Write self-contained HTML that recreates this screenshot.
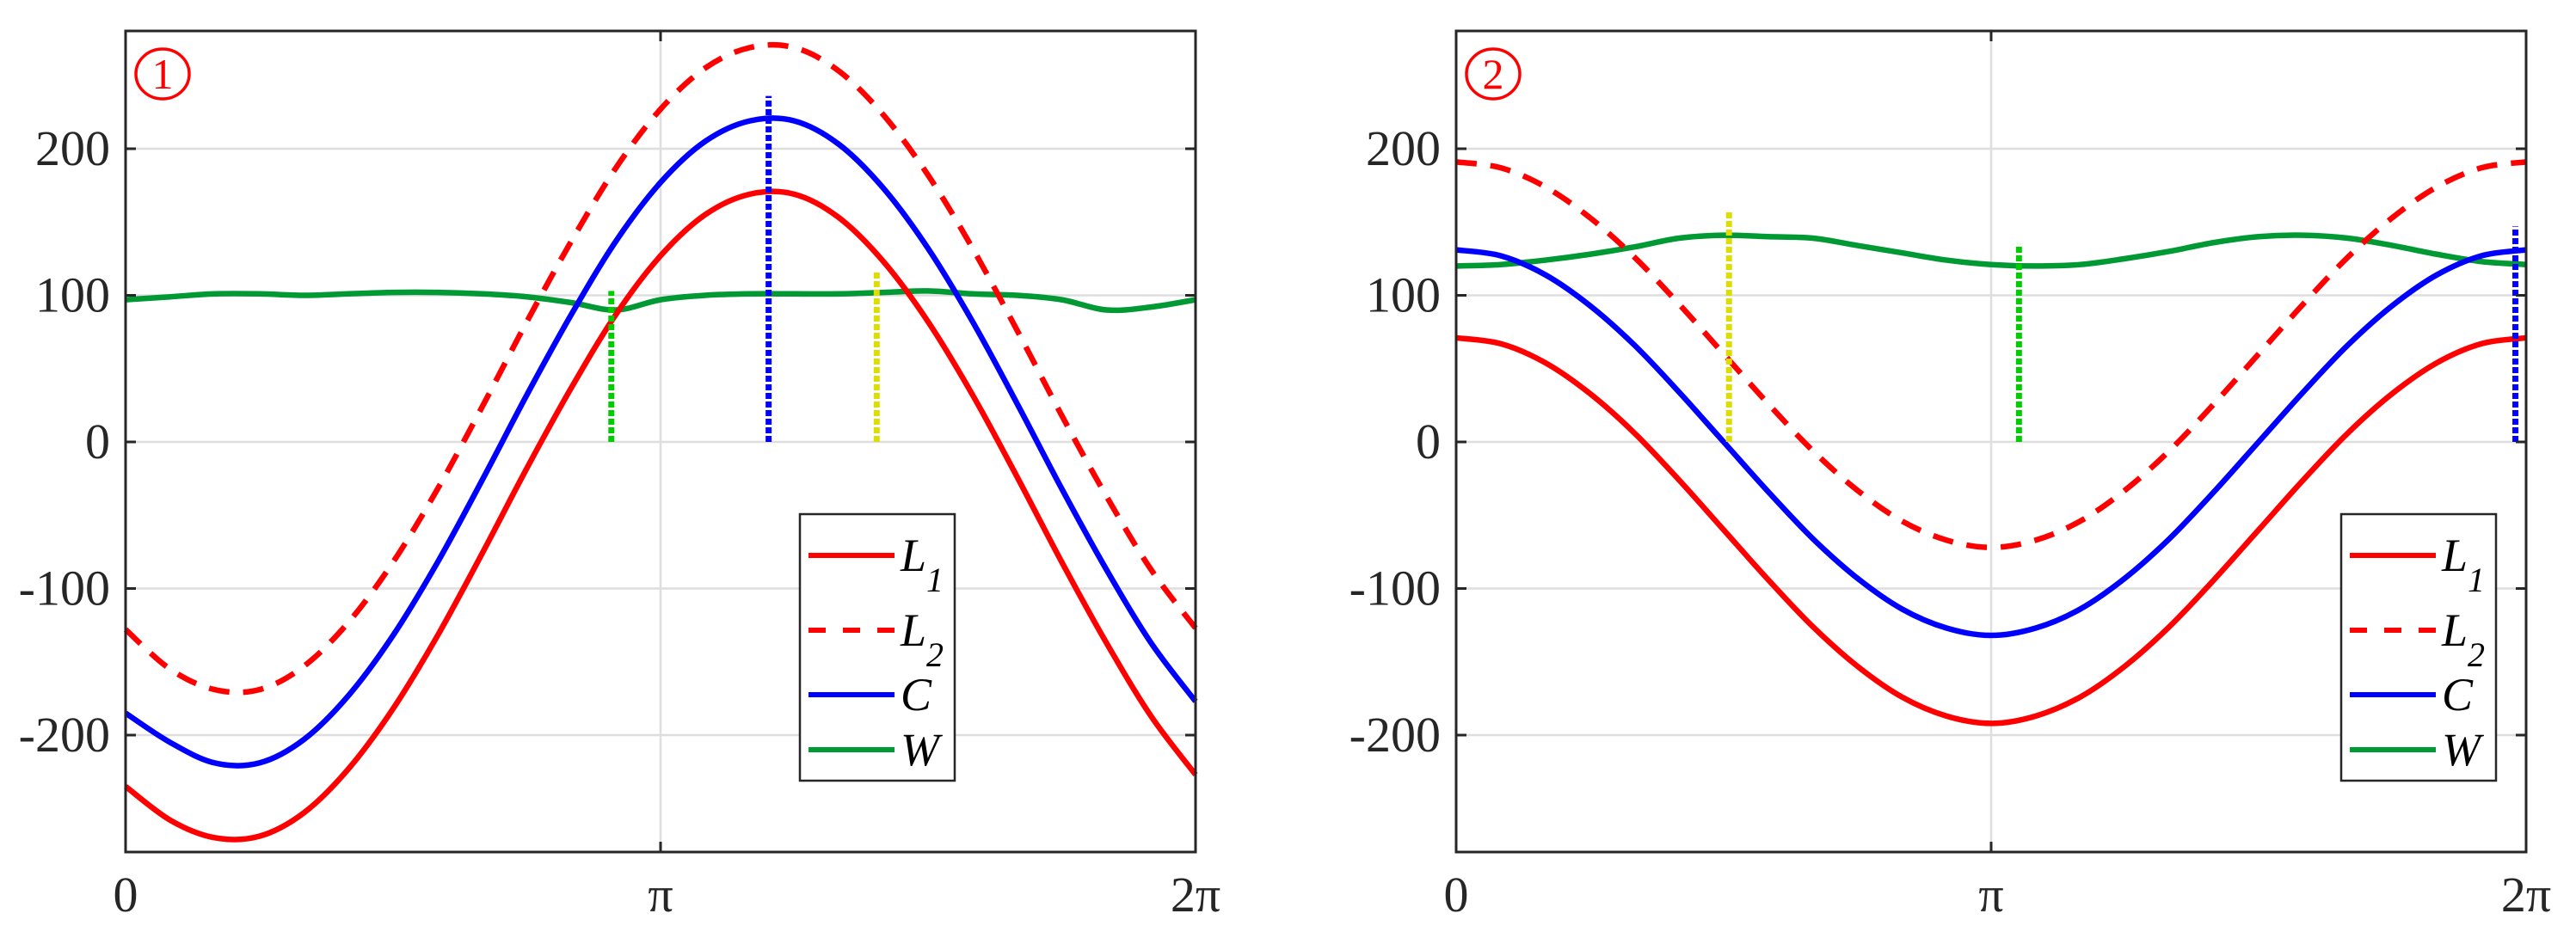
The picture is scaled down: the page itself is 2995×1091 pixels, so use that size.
<!DOCTYPE html>
<html><head><meta charset="utf-8"><style>
html,body{margin:0;padding:0;background:#fff;}
svg{display:block;}
text{font-family:"Liberation Serif",serif;}
</style></head>
<body>
<svg id="chart" width="2995" height="1091" xmlns="http://www.w3.org/2000/svg"></svg>
<script>
// ---- data (angle steps of 15 degrees, 0..360) ----
const anglesDeg = [0,15,30,45,60,75,90,105,120,135,150,165,180,195,210,225,240,255,270,285,300,315,330,345,360];
const yTicks = [-200,-100,0,100,200];
const xTickLabels = ["0","π","2π"];
const xTickFracs = [0,0.5,1];
// panel 1
const p1_L1 = [-235,-258,-270,-269,-253,-223,-182,-132,-76,-18,37,87,127,155,169,169,153,123,82,32,-24,-82,-137,-187,-227];
const p1_L2 = [-128,-155,-169,-169,-153,-123,-82,-32,24,82,137,187,227,255,269,269,253,223,182,132,76,18,-37,-87,-127];
const p1_C  = [-185,-205,-219,-219,-203,-173,-132,-82,-26,32,87,137,177,205,219,219,203,173,132,82,26,-32,-87,-137,-177];
const p1_W  = [97,99,101,101,100,101,102,102,101,99,95,90,97,100,101,101,101,102,103,101,100,97,90,92,97];
const p1_markFrac = [0.454,0.601,0.702];
const p1_markTop = [103,236,117];
const p1_markColor = ["#00cc00","#0000ff","#dddd00"];
// panel 2
const p2_L1 = [71,67,54,33,6,-26,-60,-94,-126,-153,-174,-187,-192,-187,-174,-153,-126,-94,-60,-26,6,33,54,67,71];
const p2_L2 = [191,187,174,153,126,94,60,26,-6,-33,-54,-67,-72,-67,-54,-33,-6,26,60,94,126,153,174,187,191];
const p2_C  = [131,127,114,93,66,34,0,-34,-66,-93,-114,-127,-132,-127,-114,-93,-66,-34,0,34,66,93,114,127,131];
const p2_W  = [120,121,124,128,133,139,141,140,139,134,129,124,121,120,121,125,130,136,140,141,139,134,128,123,121];
const p2_markFrac = [0.255,0.526,0.99];
const p2_markTop = [157,135,147];
const p2_markColor = ["#dddd00","#00cc00","#0000ff"];

const NS="http://www.w3.org/2000/svg";
const svg=document.getElementById('chart');
function mk(tag,attrs,parent){const e=document.createElementNS(NS,tag);for(const k in attrs)e.setAttribute(k,attrs[k]);(parent||svg).appendChild(e);return e;}

function catmull(pts){
  let d=`M${pts[0][0]},${pts[0][1]}`;
  for(let i=0;i<pts.length-1;i++){
    const p0=pts[Math.max(0,i-1)],p1=pts[i],p2=pts[i+1],p3=pts[Math.min(pts.length-1,i+2)];
    const c1=[p1[0]+(p2[0]-p0[0])/6,p1[1]+(p2[1]-p0[1])/6];
    const c2=[p2[0]-(p3[0]-p1[0])/6,p2[1]-(p3[1]-p1[1])/6];
    d+=`C${c1[0]},${c1[1]} ${c2[0]},${c2[1]} ${p2[0]},${p2[1]}`;
  }
  return d;
}

function panel(id,left,series,markFrac,markTop,markColor,legendX){
  const right=left+1244, top=36, bottom=991;
  const xs=f=>left+f*(right-left);
  const ys=v=>514-v*1.705;
  const g=mk('g',{});
  
  
  yTicks.forEach(t=>{
    const l=mk('line',{x1:left,x2:right,y1:ys(t),y2:ys(t),stroke:'#dedede','stroke-width':2.5},g);
    
    
  });
  const vg=mk('line',{x1:xs(0.5),x2:xs(0.5),y1:top,y2:bottom,stroke:'#dedede','stroke-width':2.5},g);
  
  
  const defs=[["l1",series[0],"#ff0000",null],["l2",series[1],"#ff0000","24 16"],["c",series[2],"#0000ff",null],["w",series[3],"#009933",null]];
  const order=[3,1,2,0];
  order.forEach(i=>{
    const [nm,arr,col,dash]=defs[i];
    const pts=arr.map((v,k)=>[xs(anglesDeg[k]/360),ys(v)]);
    const a={d:catmull(pts),fill:'none',stroke:col,'stroke-width':6.5,'stroke-linejoin':'round'};
    if(dash)a['stroke-dasharray']=dash;
    const p=mk('path',a,g);
    
    
  });
  markFrac.forEach((f,i)=>{
    const l=mk('line',{x1:xs(f),x2:xs(f),y1:ys(0),y2:ys(markTop[i]),stroke:markColor[i],'stroke-width':7,'stroke-dasharray':'7 3'},g);
    
    
  });
  const box=mk('rect',{x:left,y:top,width:right-left,height:bottom-top,fill:'none',stroke:'#262626','stroke-width':3},g);
  
  
  yTicks.forEach(t=>{
    mk('line',{x1:left,x2:left+12,y1:ys(t),y2:ys(t),stroke:'#262626','stroke-width':3},g);
    mk('line',{x1:right-12,x2:right,y1:ys(t),y2:ys(t),stroke:'#262626','stroke-width':3},g);
    const tx=mk('text',{x:left-18,y:ys(t)+19,'text-anchor':'end','font-size':58,fill:'#262626'},g);
    tx.textContent=(t<0?'-':'')+Math.abs(t);
    
    
  });
  xTickFracs.forEach((f,i)=>{
    mk('line',{x1:xs(f),x2:xs(f),y1:top,y2:top+12,stroke:'#262626','stroke-width':3},g);
    mk('line',{x1:xs(f),x2:xs(f),y1:bottom-12,y2:bottom,stroke:'#262626','stroke-width':3},g);
    const tx=mk('text',{x:xs(f),y:1060,'text-anchor':'middle','font-size':58,fill:'#262626'},g);
    tx.textContent=xTickLabels[i];
    
    
  });
  const c=mk('ellipse',{cx:left+43,cy:86,rx:31,ry:29,fill:'none',stroke:'#ff0000','stroke-width':3.5},g);
  
  
  const bt=mk('text',{x:left+43,y:103,'text-anchor':'middle','font-size':50,fill:'#ff0000'},g);
  bt.textContent=String(id);
  
  
  const lg=mk('g',{},g);
  
  
  mk('rect',{x:legendX,y:598,width:180,height:310,fill:'#fff',stroke:'#262626','stroke-width':2.5},lg);
  const ent=[["L","1","#ff0000",null,646],["L","2","#ff0000","20 20",733],["C","","#0000ff",null,808],["W","","#009933",null,872]];
  ent.forEach(e=>{
    const eg=mk('g',{},lg);
    
    
    const a={x1:legendX+10,x2:legendX+110,y1:e[4],y2:e[4],stroke:e[2],'stroke-width':6};
    if(e[3])a['stroke-dasharray']=e[3];
    mk('line',a,eg);
    const t=mk('text',{x:legendX+117,y:e[4]+18,'font-size':54,'font-style':'italic',fill:'#000'},eg);
    t.textContent=e[0];
    if(e[1]){const s=mk('tspan',{dy:24,'font-size':40},t);s.textContent=e[1];}
  });
}
panel(1,146,[p1_L1,p1_L2,p1_C,p1_W],p1_markFrac,p1_markTop,p1_markColor,930);
panel(2,1693,[p2_L1,p2_L2,p2_C,p2_W],p2_markFrac,p2_markTop,p2_markColor,2722);
</script>
</body></html>
